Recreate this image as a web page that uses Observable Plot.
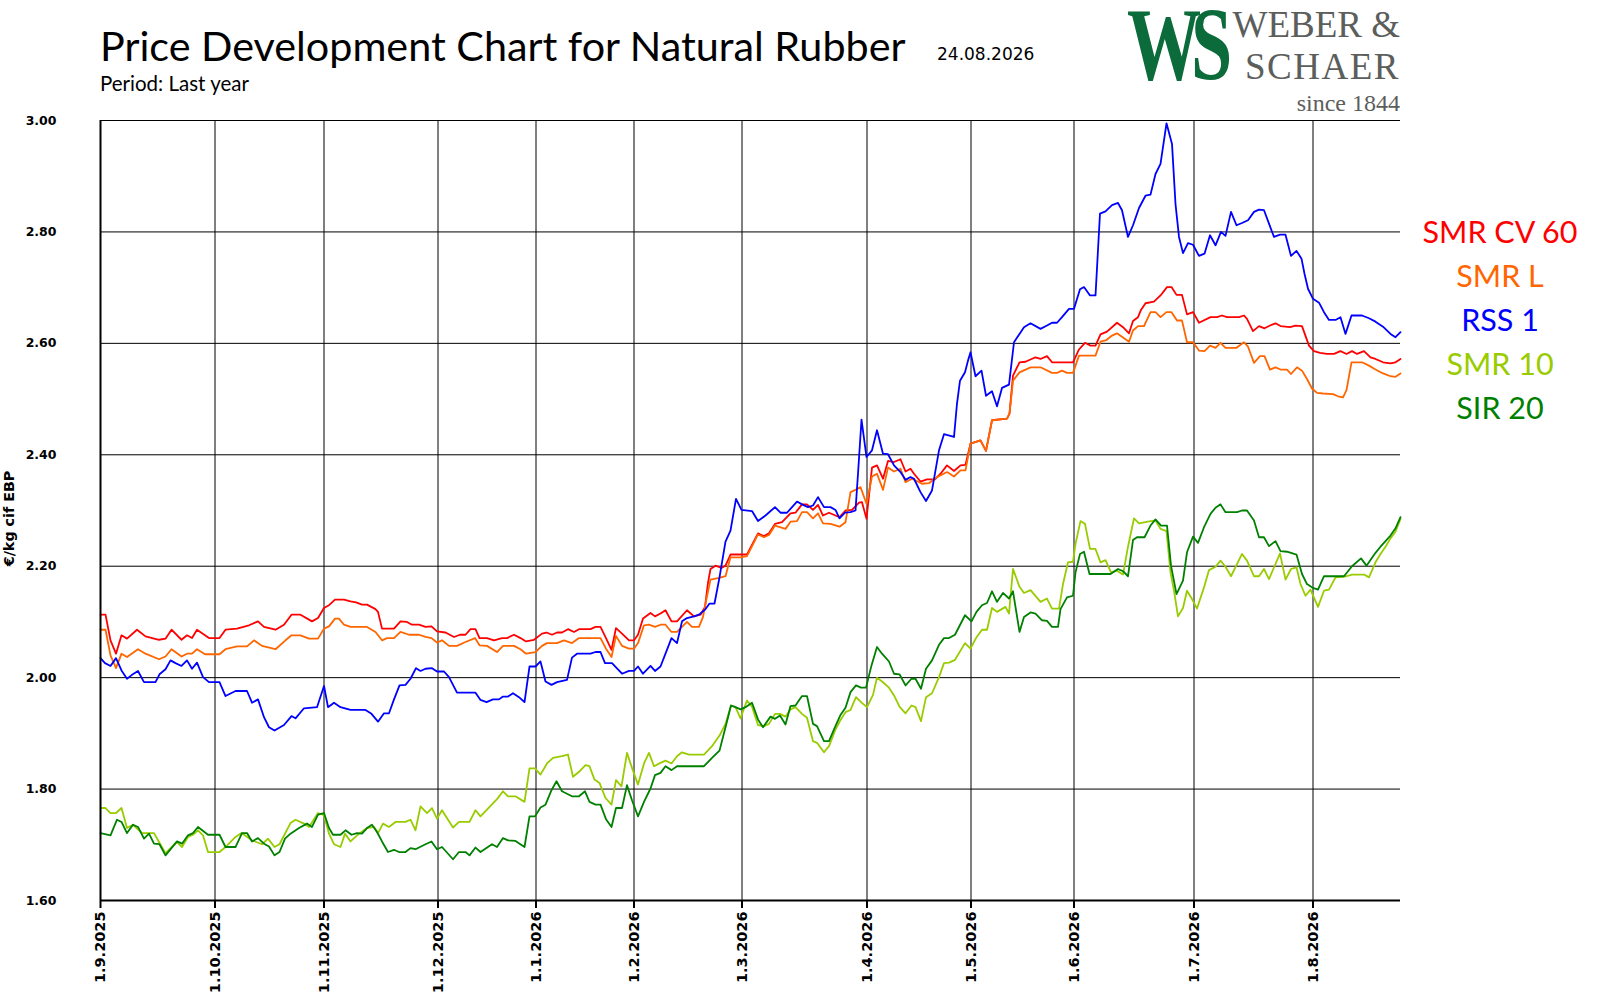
<!DOCTYPE html>
<html><head><meta charset="utf-8">
<script src="https://cdn.jsdelivr.net/npm/d3@7"></script>
<script src="https://cdn.jsdelivr.net/npm/@observablehq/plot@0.6"></script>
<style>
html,body{margin:0;padding:0;background:#fff;}
#wrap{position:relative;width:1600px;height:1000px;overflow:hidden;background:#fff;}
#head,#legend{position:absolute;left:0;top:0;}
#chart{position:absolute;left:0;top:110px;}
</style></head><body>
<div id="wrap">
<div id="chart"></div>
<svg id="head" width="1600" height="118" style="overflow:visible">
  <text x="100" y="61" font-family="Lato" font-size="41.3" fill="#000">Price Development Chart for Natural Rubber</text>
  <text x="100" y="91" font-family="Lato" font-size="20.5" fill="#000">Period: Last year</text>
  <text x="937" y="60" font-family="DejaVu Sans" font-size="17" fill="#000">24.08.2026</text>
  <text transform="translate(1127,79) scale(0.72,1)" font-family="Liberation Serif" font-weight="bold" font-size="103" fill="#0b6b3a" letter-spacing="-14">WS</text>
  <text x="1400" y="37" text-anchor="end" font-family="Liberation Serif" font-size="37" fill="#5b5e5b">WEBER &amp;</text>
  <text x="1400" y="79" text-anchor="end" font-family="Liberation Serif" font-size="37" fill="#5b5e5b" letter-spacing="1.5">SCHAER</text>
  <text x="1400" y="111" text-anchor="end" font-family="Liberation Serif" font-size="24" fill="#5b5e5b">since 1844</text>
</svg>
<svg id="legend" width="1600" height="1000" style="pointer-events:none"></svg>
</div>
<script>
// ---- data (x = trading-day position along the axis, y = €/kg) ----
const seriesNames = ["SMR CV 60", "SMR L", "RSS 1", "SMR 10", "SIR 20"];
const seriesColors = ["#ff0000", "#ff6600", "#0000ff", "#99cc00", "#008000"];
const yLabel = "€/kg cif EBP";

const yTicks = [1.6, 1.8, 2.0, 2.2, 2.4, 2.6, 2.8, 3.0];
const monthStart = [0, 22.9, 44.7, 67.5, 87.1, 106.7, 128.3, 153.3, 174.1, 194.7, 218.7, 242.5];
const monthLabels = ["1.9.2025","1.10.2025","1.11.2025","1.12.2025","1.1.2026","1.2.2026","1.3.2026","1.4.2026","1.5.2026","1.6.2026","1.7.2026","1.8.2026"];

const smrCv60 = [[0,2.113],[1,2.113],[2,2.067],[3.1,2.043],[4.2,2.076],[5.3,2.070],[7.3,2.086],[9,2.074],[11.7,2.068],[13,2.070],[14.2,2.086],[16.2,2.068],[17.3,2.076],[18.3,2.071],[19.3,2.086],[21.7,2.071],[23.8,2.071],[25,2.086],[27.3,2.088],[29.7,2.094],[31.5,2.101],[32.7,2.091],[35,2.086],[36.7,2.095],[38.2,2.113],[40,2.113],[42.3,2.101],[43.5,2.107],[44.7,2.125],[45.7,2.130],[46.9,2.140],[48.7,2.140],[50,2.137],[51.1,2.135],[52.3,2.131],[53.3,2.131],[55,2.123],[55.5,2.118],[56.3,2.088],[58.7,2.088],[60,2.101],[61.3,2.100],[62.3,2.095],[63.7,2.095],[65,2.091],
[66.2,2.092],[67.3,2.083],[69,2.081],[70.7,2.073],[71.9,2.077],[73,2.077],[74,2.087],[75,2.087],[75.8,2.071],[77.3,2.071],[78.7,2.067],[80.3,2.071],[81.3,2.071],[82.7,2.077],[84,2.071],[85.1,2.065],[86.7,2.068],[88.3,2.079],[89.2,2.081],[90.3,2.077],[91.3,2.081],[92.3,2.081],[93.5,2.087],[94.7,2.082],[95.7,2.087],[98,2.087],[99,2.091],[100,2.091],[101.1,2.071],[102.2,2.050],[103.1,2.089],[104.3,2.079],[105.7,2.067],[106.7,2.067],[107.5,2.077],[108.5,2.106],[110,2.116],[110.9,2.110],[112,2.115],[113,2.121],[114.2,2.101],[115.3,2.101],[117.3,2.121],[118.7,2.110],[120,2.113],[120.9,2.127],[121.5,2.170],[122,2.195],[123,2.201],[124.2,2.197],[125,2.201],[126,2.221],[128,2.221],
[129.3,2.221],[131.5,2.259],[132.7,2.254],[133.7,2.259],[134.9,2.276],[136.3,2.279],[138,2.295],[139,2.296],[140.3,2.311],[141.3,2.311],[142.5,2.301],[143.5,2.310],[144.5,2.291],[145.7,2.296],[147,2.291],[147.8,2.288],[149,2.300],[150.3,2.301],[151.7,2.314],[152.3,2.315],[153.2,2.285],[154.3,2.377],[155.3,2.381],[156.5,2.357],[157.5,2.389],[158.7,2.387],
[160,2.392],[161,2.370],[162,2.375],[162.7,2.366],[164,2.352],[165.3,2.356],[166.9,2.356],[168,2.366],[169.3,2.381],[170.7,2.371],[172,2.381],[173,2.382],[174,2.420],[176,2.426],[177.1,2.407],[178.3,2.462],[181.3,2.465],[181.8,2.474],[182.5,2.542],[183.8,2.566],[185,2.567],[187,2.575],
[188,2.572],[189.3,2.577],[190.3,2.566],[194.5,2.566],[195.7,2.589],[196.9,2.601],[198,2.596],[199,2.596],[200,2.616],[201.3,2.621],[203.3,2.637],[204.5,2.629],[205.7,2.618],[206.5,2.640],[207.5,2.647],[208.1,2.660],[209,2.672],[210.7,2.675],[212,2.686],[213.3,2.701],[214.2,2.701],[215.2,2.687],[216.3,2.687],[217.3,2.652],[218.5,2.656],[219.7,2.637],[222,2.647],[223.3,2.647],[224.3,2.650],[225.3,2.647],[227.7,2.647],[228.7,2.650],[229.3,2.644],[230.5,2.622],[231.7,2.631],[232.8,2.627],[233.9,2.632],[235,2.636],[236,2.631],[237.9,2.629],[239,2.632],[240.3,2.631],[241.7,2.596],[242.7,2.586],[243.9,2.583],[245.3,2.581],[246.7,2.581],[248,2.586],[249.2,2.581],[250.3,2.586],[251.3,2.581],[252.7,2.586],[254,2.575],[255,2.572],[256.5,2.566],[258,2.564],[259,2.566],[260,2.572]];

const smrL = [[0,2.086],[1,2.086],[2,2.040],[3.1,2.017],[4.2,2.043],[5.3,2.037],[7.5,2.051],[9,2.043],[11.7,2.033],[13,2.038],[14.2,2.051],[16.2,2.038],[17.3,2.043],[18.3,2.043],[19.3,2.051],[20.9,2.042],[23.8,2.042],[25,2.051],[27.3,2.056],[29.3,2.056],[30.7,2.067],[32.3,2.057],[35,2.051],[37,2.067],[38.2,2.076],[40,2.076],[41.7,2.070],[43.5,2.070],[44.7,2.088],[45.7,2.092],[46.9,2.106],[47.7,2.106],[48.7,2.095],[50,2.091],[53.3,2.091],[55,2.082],[56.3,2.067],[57.3,2.071],[58.7,2.071],[60,2.082],[61.7,2.077],[63.7,2.077],[65,2.073],
[66.2,2.071],[67.3,2.063],[68.3,2.067],[69.7,2.057],[71.3,2.057],[73,2.064],[74.9,2.071],[75.8,2.058],[77.3,2.057],[79.3,2.046],[80.5,2.057],[82.7,2.057],[84,2.051],[85.1,2.043],[87,2.046],[88.3,2.057],[89.3,2.062],[91.3,2.062],[92.7,2.067],[94.3,2.062],[95.7,2.071],[100,2.071],[101.1,2.052],[102.2,2.037],[103.1,2.075],[104.3,2.057],[105.7,2.052],[106.7,2.052],[107.5,2.062],[108.7,2.094],[109.7,2.095],[110.9,2.091],[112,2.095],[113,2.095],[114.2,2.082],[115.3,2.082],[117.3,2.100],[118.3,2.091],[119.7,2.091],[120.5,2.109],[121,2.133],[122,2.176],[123.7,2.179],[125,2.182],[126,2.216],[128,2.216],
[129.3,2.218],[131.5,2.257],[132.7,2.252],[133.7,2.256],[134.9,2.273],[137,2.267],[138,2.280],[139.3,2.281],[140.3,2.297],[141.3,2.297],[142.5,2.286],[143.5,2.295],[144.5,2.277],[146,2.276],[147.8,2.271],[149,2.279],[150,2.333],[151,2.337],[152,2.342],[153.2,2.312],[154.3,2.361],[155.3,2.366],[156.5,2.337],[157.5,2.377],[158.7,2.370],
[160,2.375],[161,2.351],[162.3,2.357],[164.3,2.348],[165.7,2.349],[167.3,2.360],[169.3,2.369],[170.7,2.361],[172,2.372],[173,2.372],[174,2.420],[176,2.426],[177.1,2.407],[178.3,2.462],[181.3,2.465],[181.8,2.474],[182.5,2.533],[183.8,2.548],[186,2.557],
[188,2.557],[190.3,2.547],[191.3,2.547],[192.3,2.551],[193.3,2.547],[194.5,2.547],[195.7,2.578],[197,2.578],[199,2.578],[200,2.603],[201.2,2.606],[202.3,2.614],[203.3,2.618],[205.7,2.603],[206.5,2.623],[207.5,2.631],[208.7,2.631],[210,2.656],[211,2.656],[212,2.647],[213.2,2.656],[214.2,2.656],[215.3,2.641],[216.3,2.641],[217.3,2.602],[218.5,2.602],[219.7,2.587],[220.8,2.586],[221.9,2.596],[223,2.592],[224,2.601],[225,2.592],[227.2,2.592],[228.7,2.602],[229.5,2.594],[230.7,2.565],[231.9,2.577],[232.8,2.577],[233.9,2.553],[235,2.557],[236,2.553],[237.3,2.553],[238.1,2.545],[239.3,2.557],[240.3,2.551],[241.3,2.536],[242.3,2.519],[243.3,2.511],[244.5,2.510],[246.5,2.509],[247.5,2.505],[248.5,2.503],[249.2,2.516],[250.2,2.566],[252.3,2.566],[253.7,2.560],[255,2.553],[256.5,2.546],[258,2.541],[259,2.540],[260,2.546]];

const rss1 = [[0,2.035],[0.9,2.026],[2,2.021],[3.1,2.035],[4.2,2.013],[5.3,1.998],[6.3,2.005],[7.5,2.012],[8.7,1.992],[11,1.992],[11.8,2.006],[13,2.015],[14,2.031],[15,2.026],[16.2,2.021],[17.3,2.031],[18.3,2.016],[19.3,2.027],[20.5,2.001],[21.7,1.992],[23.8,1.992],[25,1.967],[27,1.976],[29.3,1.976],[30.3,1.955],[31.5,1.961],[32.7,1.929],[33.7,1.911],[34.8,1.905],[36.7,1.915],[38.2,1.931],[39,1.927],[40.7,1.945],[43.3,1.947],[44.7,1.985],[45.5,1.947],[46.7,1.955],[48,1.947],[50,1.942],[53,1.942],[54.2,1.935],[55.5,1.921],[56.7,1.936],[57.7,1.936],[58.7,1.961],[59.8,1.986],[61,1.987],[62,1.998],[63.1,2.017],[64,2.012],[65,2.016],
[66.3,2.017],[67.3,2.011],[68.7,2.011],[69.7,2.001],[71.3,1.973],[75,1.973],[76,1.960],[77.2,1.956],[78.5,1.961],[79.7,1.961],[80.5,1.966],[81.5,1.966],[82.5,1.972],[83.7,1.965],[84.8,1.956],[85.8,2.020],[87,2.020],[88,2.029],[89,1.993],[90.2,1.987],[91.3,1.992],[93.3,1.996],[94.3,2.036],[95.3,2.043],[98,2.043],[99,2.046],[100,2.046],[100.9,2.026],[102.3,2.026],[104.3,2.007],[105.7,2.012],[106.7,2.012],[107.5,2.020],[108.5,2.007],[110,2.021],[110.9,2.012],[112,2.020],[113,2.043],[114.2,2.071],[115.3,2.062],[116.3,2.101],[117.3,2.107],[118.7,2.110],[119.7,2.113],[120.9,2.122],[121.8,2.133],[122.8,2.133],[123.8,2.180],[125,2.244],[126,2.264],[127.1,2.321],
[128.2,2.301],[130.3,2.299],[131.5,2.281],[133,2.291],[134.9,2.306],[136,2.296],[137.3,2.296],[139.3,2.316],[140.3,2.311],[141.5,2.306],[142.5,2.309],[143.5,2.324],[144.7,2.306],[146,2.306],[147,2.301],[147.8,2.286],[148.9,2.296],[150,2.297],[151,2.300],[151.5,2.366],[152.2,2.463],[153.2,2.396],[154.3,2.408],[155.3,2.444],[156.5,2.402],[157.5,2.401],[158.7,2.381],
[160,2.369],[161,2.355],[162,2.360],[162.7,2.357],[164,2.333],[165.1,2.317],[166.3,2.336],[167,2.372],[167.7,2.408],[168.7,2.437],[170.7,2.432],[171.3,2.492],[171.9,2.533],[172.9,2.548],[173.5,2.569],[174,2.584],[175,2.541],[176.2,2.551],[177.1,2.506],[178.3,2.514],[179.3,2.487],[180.3,2.520],[181.7,2.526],[182.7,2.602],[183.8,2.617],[184.7,2.629],[186,2.636],
[188,2.626],[189.3,2.632],[190.3,2.637],[191.3,2.637],[192.3,2.647],[193.7,2.662],[194.7,2.662],[195.9,2.697],[196.7,2.701],[197.9,2.686],[199,2.686],[199.9,2.833],[201,2.837],[202.3,2.848],[203.5,2.852],[204.3,2.839],[205.5,2.791],[206.5,2.812],[207.7,2.843],[209,2.865],[210,2.867],[211,2.904],[212,2.922],[213.2,2.995],[214.3,2.958],[215,2.850],[215.7,2.791],[216.5,2.762],[217.5,2.780],[218.5,2.777],[219.7,2.757],[220.8,2.761],[221.9,2.794],[223,2.776],[224.1,2.800],[225,2.793],[226.1,2.836],[227.2,2.812],[228.3,2.816],[229.5,2.821],[230.7,2.836],[231.7,2.840],[232.7,2.839],[233.7,2.815],[234.7,2.791],[235.9,2.795],[237,2.795],[238.1,2.757],[239.2,2.766],[240.2,2.752],[240.8,2.725],[241.5,2.698],[242.5,2.680],[243.7,2.673],[244.7,2.656],[245.7,2.642],[247,2.642],[248,2.647],[249,2.617],[250.2,2.650],[252.3,2.650],[253.7,2.645],[255,2.639],[256.5,2.630],[258,2.617],[259,2.611],[260,2.620]];

const smr10 = [[0,1.766],[1,1.766],[2,1.757],[3.1,1.757],[4.2,1.766],[5.3,1.730],[6.5,1.736],[8.3,1.721],[10.7,1.721],[11.7,1.705],[13,1.685],[15.3,1.705],[16.3,1.696],[17.5,1.714],[18.5,1.718],[19.5,1.726],[20.5,1.717],[21.5,1.687],[23.8,1.687],[25,1.696],[27,1.714],[28.2,1.721],[30.3,1.708],[32.3,1.701],[33.5,1.711],[34.8,1.696],[35.8,1.701],[38,1.739],[39,1.745],[40.7,1.738],[41.7,1.732],[43.5,1.757],[44.7,1.753],[45.7,1.720],[46.7,1.701],[48,1.696],[48.9,1.720],[50,1.706],[51.7,1.720],[53.3,1.730],[54.7,1.732],[55.5,1.721],[56.5,1.738],[57.7,1.732],[59,1.741],[61,1.741],[62,1.745],
[63,1.726],[64,1.769],[65.3,1.757],[66.3,1.766],[67.3,1.747],[68.3,1.762],[70.5,1.731],[71.7,1.741],[73.8,1.741],[75,1.762],[76,1.751],[79.3,1.782],[80.5,1.796],[81.5,1.787],[83,1.787],[84.8,1.777],[85.8,1.837],[86.9,1.837],[88,1.826],[89.3,1.846],[90.5,1.856],[92.3,1.859],[93.5,1.862],[94.5,1.822],[95.7,1.831],[97,1.843],[97.8,1.841],[98.8,1.817],[99.8,1.811],[101,1.784],[102.2,1.772],[103.1,1.816],[104.2,1.805],[105.3,1.865],[106.3,1.838],[107.5,1.808],[108.7,1.846],[109.7,1.865],[110.7,1.841],[112,1.847],[113,1.851],[114.2,1.846],[115.3,1.859],[116.3,1.866],[117.7,1.862],[120.7,1.862],[122.3,1.877],[123.8,1.896],[125,1.917],[126.1,1.950],
[127,1.947],[128,1.927],[129.3,1.959],[130.3,1.948],[131.5,1.915],[132.7,1.913],[133.7,1.917],[134.9,1.935],[135.9,1.935],[137,1.930],[138,1.943],[139,1.947],[140.3,1.935],[141.3,1.928],[142.5,1.886],[143.3,1.883],[144.7,1.866],[145.7,1.877],[146.9,1.905],[148,1.924],[149,1.938],[150,1.942],[151.1,1.965],[152.1,1.956],[153.3,1.947],[154.5,1.969],[155.3,2.000],[156.3,1.993],[157.7,1.982],[158.7,1.968],[159.8,1.948],[161,1.936],[162.2,1.950],[163,1.947],[164.1,1.922],[165.1,1.965],[166.3,1.972],[167.7,2.001],[168.7,2.026],[169.7,2.027],[170.9,2.032],[172.9,2.062],[174,2.052],[175.1,2.071],[176.3,2.086],[177.3,2.086],[178.3,2.125],[179.3,2.118],[181,2.127],
[181.7,2.115],[182,2.145],[182.5,2.195],[183.8,2.163],[184.7,2.152],[186,2.157],
[188,2.136],[189.3,2.142],[190.3,2.124],[191.7,2.124],[192.5,2.168],[193.5,2.207],[194.5,2.208],[195,2.240],[196,2.281],[196.9,2.276],[197.9,2.231],[199,2.231],[200,2.207],[201,2.211],[202.1,2.189],[203.3,2.192],[204.5,2.185],[205.5,2.235],[206.7,2.286],[207.7,2.277],[210,2.281],[211,2.282],[212,2.267],[213.2,2.263],[214,2.189],[214.7,2.156],[215.5,2.110],[216.5,2.125],[217.3,2.156],[218.3,2.141],[219.3,2.124],[220.7,2.162],[221.7,2.193],[223,2.199],[224,2.210],[225,2.199],[226.1,2.182],[228.3,2.222],[229.3,2.210],[230.7,2.182],[231.7,2.182],[232.7,2.195],[233.7,2.177],[235,2.204],[235.9,2.223],[237,2.176],[238.1,2.195],[239.2,2.198],[240,2.168],[241,2.147],[242,2.158],[243.5,2.127],[244.7,2.156],[245.7,2.158],[247,2.180],[249.2,2.182],[250.3,2.185],[252.7,2.185],[253.7,2.180],[255,2.207],[256,2.222],[257,2.235],[258,2.250],[259,2.262],[260,2.285]];

const sir20 = [[0,1.721],[2,1.717],[3.3,1.745],[4.2,1.741],[5.3,1.721],[6.5,1.736],[7.5,1.732],[8.7,1.711],[9.7,1.720],[10.7,1.702],[11.8,1.701],[13,1.681],[15.3,1.706],[16.3,1.702],[17.5,1.717],[18.5,1.721],[19.5,1.732],[21.5,1.718],[23.8,1.718],[25,1.696],[27,1.696],[28.3,1.721],[29.3,1.721],[30.3,1.706],[31.5,1.712],[32.7,1.702],[33.7,1.697],[34.8,1.681],[35.8,1.687],[36.9,1.711],[38,1.720],[39.7,1.730],[41.3,1.738],[42.3,1.732],[43.5,1.754],[44.7,1.757],[45.7,1.730],[46.5,1.718],[48,1.718],[49,1.726],[50.2,1.718],[51.3,1.721],[52.3,1.720],[53.3,1.730],[54.3,1.736],[55.3,1.723],[56.3,1.706],[57.5,1.687],[58.7,1.691],[59.7,1.687],[61,1.687],[62,1.694],
[63,1.692],[65,1.701],[66.2,1.706],[67.3,1.692],[68.3,1.696],[70.5,1.674],[71.7,1.687],[73,1.687],[73.8,1.681],[75,1.695],[76,1.687],[78.3,1.701],[79.3,1.696],[80.5,1.712],[81.5,1.708],[83,1.707],[84.8,1.696],[85.8,1.751],[86.9,1.751],[88,1.767],[89,1.772],[90.2,1.798],[91.2,1.814],[92.3,1.796],[94.3,1.787],[95.7,1.787],[96.9,1.796],[97.8,1.777],[99,1.772],[100,1.772],[101.1,1.746],[102.2,1.732],[103.1,1.766],[104.3,1.766],[105.3,1.807],[106.3,1.780],[107.5,1.751],[108.7,1.777],[110,1.801],[110.9,1.825],[112,1.829],[113,1.841],[114.2,1.834],[115.3,1.841],[120.7,1.841],[122.3,1.856],[123.8,1.869],[125,1.911],[126.1,1.950],
[127,1.947],[128,1.943],[129,1.947],[130.3,1.955],[131.5,1.925],[132.5,1.911],[134,1.930],[134.9,1.926],[135.9,1.932],[137,1.916],[138,1.949],[139,1.950],[140.3,1.967],[141.3,1.967],[142.5,1.917],[143.3,1.913],[144.7,1.886],[145.7,1.886],[146.9,1.911],[148,1.933],[149,1.946],[150,1.974],[151.1,1.986],[152.1,1.982],[153.1,1.982],[154.2,2.022],[155.3,2.055],[156.3,2.043],[157.7,2.029],[158.7,2.007],[159.8,2.006],[161,1.986],[162.2,1.998],[163,1.998],[164.1,1.980],[165.1,2.016],[166.3,2.031],[167.7,2.059],[168.7,2.071],[169.7,2.071],[170.9,2.077],[172.9,2.112],[174.2,2.101],[175.2,2.118],[176.3,2.130],
[177.3,2.134],[178.3,2.155],[179.3,2.136],[180.5,2.152],[181.7,2.142],[182.5,2.155],[183.8,2.082],[184.7,2.109],[186,2.117],[187,2.115],[188.3,2.103],[189.3,2.102],[190.3,2.091],[191.5,2.091],
[192,2.123],[193.3,2.144],[194.5,2.147],[195,2.189],[195.9,2.222],[196.7,2.226],[197.8,2.186],[202,2.186],[203.5,2.195],[204.5,2.191],[205.5,2.182],[206.5,2.247],[207.3,2.252],[208.8,2.252],[210,2.273],[211,2.284],[212.1,2.273],[213.3,2.273],[214.1,2.201],[215.2,2.150],[216.5,2.174],[217.3,2.225],[218.5,2.253],[219.5,2.242],[220.7,2.270],[222,2.294],[223,2.305],[224,2.311],[225,2.297],[227.3,2.297],[228.3,2.300],[229.3,2.300],[230.7,2.282],[231.7,2.252],[232.7,2.252],[233.7,2.236],[235,2.245],[236,2.227],[237.3,2.226],[239.2,2.221],[240.3,2.186],[241.3,2.168],[242.5,2.161],[243.5,2.158],[244.7,2.182],[248.7,2.182],[250.3,2.200],[252.1,2.214],[253.2,2.201],[255,2.224],[256,2.235],[257,2.245],[258,2.255],[259,2.268],[260,2.288]];

const seriesData = [smrCv60, smrL, rss1, smr10, sir20];

const labelByTick = new Map(monthStart.map((d, i) => [d, monthLabels[i]]));

const chart = Plot.plot({
  width: 1600,
  height: 890,
  marginLeft: 100,
  marginRight: 200,
  marginTop: 10,
  marginBottom: 100,
  style: {fontFamily: "DejaVu Sans", fontWeight: "bold", fontSize: "12px", background: "transparent", color: "#000", overflow: "visible"},
  x: {domain: [0, 260]},
  y: {domain: [1.6, 3.0]},
  marks: [
    Plot.gridY(yTicks, {stroke: "#000", strokeOpacity: 1, strokeWidth: 1}),
    Plot.gridX(monthStart, {stroke: "#000", strokeOpacity: 1, strokeWidth: 1}),
    ...seriesData.map((s, i) => Plot.line(s, {x: d => d[0], y: d => d[1], stroke: seriesColors[i], strokeWidth: 1.8})),
    Plot.ruleX([0], {stroke: "#000", strokeWidth: 2}),
    Plot.ruleY([1.6], {stroke: "#000", strokeWidth: 2}),
    Plot.axisY(yTicks, {tickFormat: d3.format(".2f"), tickSize: 0, tickPadding: 44, fontSize: 12.5, fontWeight: "bold", label: null}),
    Plot.text([yLabel], {frameAnchor: "left", textAnchor: "middle", lineAnchor: "middle", rotate: -90, dx: -91, dy: 8, fontSize: 14.3, fontWeight: "bold", fill: "#000"}),
    Plot.axisX(monthStart, {tickFormat: d => labelByTick.get(d), tickRotate: -90, tickSize: 8, tickPadding: 3,
      fontSize: 14.5, fontWeight: "bold", strokeWidth: 2, label: null})
  ]
});
document.getElementById("chart").appendChild(chart);

// legend (right side)
const leg = d3.select("#legend");
seriesNames.forEach((name, i) => {
  leg.append("text")
    .attr("x", 1500).attr("y", 243 + i * 44)
    .attr("text-anchor", "middle")
    .attr("font-family", "Lato").attr("font-size", 30.5)
    .attr("fill", seriesColors[i])
    .text(name);
});
</script>
</body></html>
